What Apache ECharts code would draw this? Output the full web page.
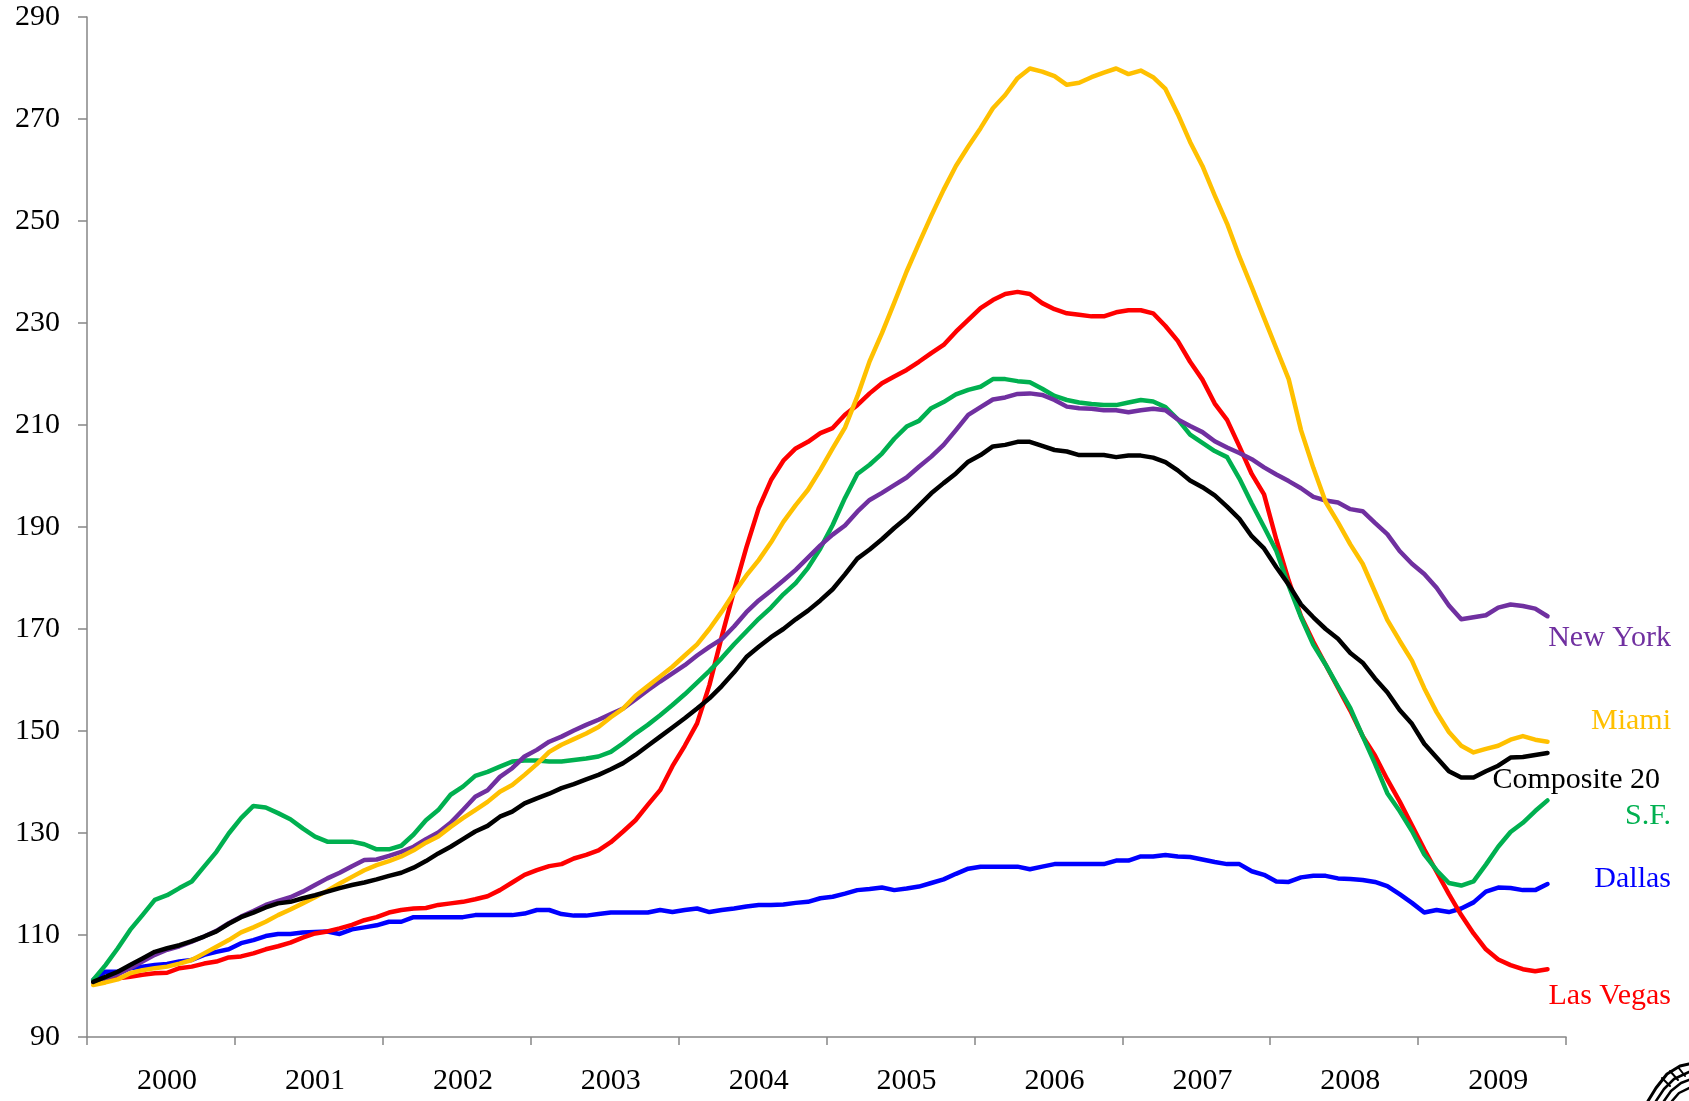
<!DOCTYPE html>
<html>
<head>
<meta charset="utf-8">
<script src="https://cdn.jsdelivr.net/npm/echarts@6/dist/echarts.min.js"></script>
<style>
html,body{margin:0;padding:0;background:#fff;}
#chart{width:1689px;height:1101px;}
</style>
</head>
<body>
<div id="chart"></div>
<script>
// Tick labels (years); months are the categories (Jan 2000 .. Dec 2009)
var years = ['2000','2001','2002','2003','2004','2005','2006','2007','2008','2009'];
var categories = [];
years.forEach(function (y) { for (var m = 1; m <= 12; m++) categories.push(y + '-' + (m < 10 ? '0' + m : m)); });

var yTicks = { min: 90, max: 290, step: 20 };

var composite20 = [
100.8,101.8,102.8,104.1,105.4,106.7,107.4,108.0,108.8,109.7,110.7,112.2,
113.5,114.4,115.4,116.2,116.5,117.2,117.8,118.5,119.2,119.8,120.3,120.9,
121.6,122.2,123.2,124.5,126.0,127.3,128.8,130.3,131.4,133.2,134.2,135.8,
136.8,137.7,138.8,139.6,140.5,141.4,142.5,143.7,145.3,147.1,148.9,150.7,
152.5,154.4,156.4,158.8,161.5,164.5,166.5,168.4,170.0,171.9,173.6,175.6,
177.8,180.7,183.8,185.6,187.6,189.8,191.8,194.2,196.6,198.6,200.5,202.8,
204.1,205.8,206.1,206.7,206.7,205.9,205.1,204.8,204.1,204.1,204.1,203.7,
204.0,204.0,203.6,202.7,201.1,199.1,197.8,196.2,194.0,191.6,188.2,185.8,
182.1,178.7,174.8,172.3,170.0,168.1,165.3,163.4,160.3,157.6,154.1,151.4,
147.5,144.8,142.1,140.9,140.9,142.1,143.2,144.8,144.9,145.3,145.7];

var newYork = [
100.7,101.5,102.3,103.5,104.8,106.1,107.1,107.8,108.7,109.7,110.8,112.3,
113.6,114.7,115.9,116.7,117.4,118.5,119.8,121.1,122.2,123.5,124.7,124.8,
125.5,126.3,127.3,128.8,130.1,132.0,134.5,137.1,138.4,141.0,142.7,145.0,
146.3,147.9,148.9,150.1,151.2,152.2,153.3,154.4,156.2,158.0,159.7,161.3,
162.9,164.8,166.5,168.0,170.5,173.3,175.6,177.5,179.5,181.6,184.0,186.4,
188.5,190.3,193.0,195.3,196.7,198.2,199.7,201.8,203.8,206.1,209.0,212.0,
213.5,215.0,215.4,216.1,216.2,215.9,214.9,213.6,213.3,213.2,212.9,212.9,
212.5,212.9,213.2,212.9,211.1,209.8,208.6,206.8,205.6,204.5,203.3,201.7,
200.3,199.0,197.6,195.9,195.2,194.8,193.5,193.1,190.8,188.6,185.3,182.8,
180.8,178.1,174.6,171.9,172.3,172.7,174.2,174.8,174.5,174.0,172.5];

var miami = [
100.2,100.7,101.3,102.5,103.1,103.5,103.8,104.4,105.1,106.4,107.7,109.0,
110.5,111.5,112.6,113.9,115.0,116.2,117.4,118.7,120.1,121.4,122.7,123.7,
124.5,125.4,126.6,128.1,129.3,131.2,132.9,134.5,136.1,138.1,139.4,141.4,
143.5,145.9,147.3,148.4,149.5,150.8,152.7,154.4,156.9,158.8,160.7,162.6,
164.8,167.0,170.0,173.4,177.1,180.5,183.5,187.0,191.0,194.3,197.3,201.2,
205.4,209.5,215.6,222.5,228.0,234.0,240.1,245.6,251.0,256.1,260.8,264.6,
268.2,272.1,274.7,278.0,279.9,279.3,278.4,276.7,277.1,278.2,279.1,279.9,
278.8,279.5,278.2,275.9,271.0,265.5,260.8,255.0,249.5,243.0,237.1,231.0,
225.0,219.0,209.0,201.6,194.9,190.9,186.6,182.8,177.3,171.8,167.7,163.8,
158.4,153.7,149.8,147.1,145.8,146.5,147.1,148.3,149.0,148.3,147.9];

var sanFrancisco = [
101.2,104.1,107.4,111.0,113.9,116.9,117.8,119.2,120.5,123.4,126.3,129.9,
132.9,135.3,135.0,133.9,132.7,130.9,129.3,128.3,128.3,128.3,127.8,126.8,
126.8,127.5,129.7,132.5,134.5,137.5,139.1,141.2,142.0,143.0,144.0,144.2,
144.2,144.0,144.0,144.3,144.6,145.0,145.9,147.6,149.5,151.2,153.1,155.1,
157.2,159.5,161.8,164.3,167.0,169.5,172.0,174.2,176.8,179.0,182.0,185.8,
190.4,195.7,200.4,202.2,204.4,207.3,209.7,210.8,213.3,214.5,216.0,216.9,
217.5,219.0,219.0,218.6,218.4,217.1,215.7,214.9,214.4,214.1,213.9,213.9,
214.4,214.9,214.6,213.5,211.1,208.1,206.5,204.9,203.7,199.5,194.6,190.0,
185.3,178.5,172.3,166.9,163.0,158.7,154.5,149.0,143.6,137.8,134.3,130.4,
125.8,122.7,120.2,119.7,120.5,123.8,127.3,130.2,132.0,134.3,136.4];

var lasVegas = [
100.8,101.5,101.5,101.8,102.2,102.5,102.6,103.5,103.8,104.4,104.8,105.6,
105.8,106.4,107.2,107.8,108.5,109.5,110.3,110.7,111.3,112.0,112.9,113.5,
114.4,114.9,115.2,115.3,115.9,116.2,116.5,117.0,117.6,118.8,120.3,121.8,
122.7,123.5,123.9,125.0,125.7,126.6,128.2,130.3,132.5,135.5,138.4,143.1,
147.1,151.5,159.0,168.5,177.5,186.0,193.7,199.2,203.0,205.4,206.7,208.4,
209.4,212.0,213.9,216.2,218.2,219.5,220.8,222.4,224.1,225.7,228.3,230.6,
232.9,234.5,235.7,236.1,235.7,233.9,232.7,231.9,231.6,231.3,231.3,232.1,
232.5,232.5,231.9,229.4,226.5,222.4,218.9,214.2,211.0,205.8,200.4,196.4,
187.5,179.5,172.5,167.5,163.0,158.5,154.0,149.0,145.2,140.5,136.2,131.5,
126.8,122.4,118.0,113.9,110.3,107.2,105.2,104.1,103.3,102.9,103.3];

var dallas = [
101.2,102.8,102.8,103.5,103.8,104.1,104.3,104.8,105.1,106.1,106.7,107.2,
108.4,109.0,109.8,110.2,110.2,110.5,110.6,110.7,110.2,111.1,111.5,111.9,
112.6,112.6,113.5,113.5,113.5,113.5,113.5,113.9,113.9,113.9,113.9,114.2,
114.9,114.9,114.1,113.8,113.8,114.1,114.4,114.4,114.4,114.4,114.9,114.5,
114.9,115.2,114.5,114.9,115.2,115.6,115.9,115.9,116.0,116.3,116.5,117.2,
117.5,118.1,118.8,119.0,119.3,118.8,119.1,119.5,120.2,120.9,122.0,123.0,
123.4,123.4,123.4,123.4,122.9,123.4,123.9,123.9,123.9,123.9,123.9,124.6,
124.6,125.4,125.4,125.7,125.4,125.3,124.8,124.3,123.9,123.9,122.5,121.8,
120.5,120.4,121.3,121.6,121.6,121.1,121.0,120.8,120.4,119.6,118.0,116.3,
114.4,114.9,114.5,115.2,116.4,118.5,119.3,119.2,118.8,118.8,120.0];

var seriesDefs = [
  { name: 'Dallas', data: dallas, color: '#0000FF' },
  { name: 'Las Vegas', data: lasVegas, color: '#FF0000' },
  { name: 'S.F.', data: sanFrancisco, color: '#00B050' },
  { name: 'New York', data: newYork, color: '#7030A0' },
  { name: 'Miami', data: miami, color: '#FFC000' },
  { name: 'Composite 20', data: composite20, color: '#000000' }
];

var FONT = '"Liberation Serif", "Times New Roman", serif';
var axisGray = '#868686';

var chart = echarts.init(document.getElementById('chart'), null, { renderer: 'canvas' });

function label(text, x, y, color) {
  return { type: 'text', x: x, y: y, silent: true,
    style: { text: text, fill: color, font: '30px ' + FONT, align: 'right', verticalAlign: 'middle' } };
}
function stroke(points, w) {
  return { type: 'polyline', silent: true, shape: { points: points },
    style: { stroke: '#000', lineWidth: w, fill: null, lineCap: 'round', lineJoin: 'round' } };
}

chart.setOption({
  animation: false,
  backgroundColor: '#ffffff',
  grid: { left: 87, top: 17, width: 1479, height: 1020, containLabel: false },
  xAxis: {
    type: 'category',
    data: categories,
    boundaryGap: true,
    axisLine: { show: true, lineStyle: { color: axisGray, width: 1.5 } },
    axisTick: { show: true, length: 8, lineStyle: { color: axisGray, width: 1.5 },
      interval: function (idx) { return idx % 12 === 0; } },
    axisLabel: { show: true, color: '#000', fontFamily: FONT, fontSize: 30, margin: 29,
      interval: function (idx) { return idx % 12 === 6; },
      formatter: function (v) { return v.slice(0, 4); } },
    splitLine: { show: false }
  },
  yAxis: {
    type: 'value',
    min: yTicks.min, max: yTicks.max, interval: yTicks.step,
    axisLine: { show: true, lineStyle: { color: axisGray, width: 1.5 } },
    axisTick: { show: true, length: 9, lineStyle: { color: axisGray, width: 1.5 } },
    axisLabel: { color: '#000', fontFamily: FONT, fontSize: 30, margin: 27 },
    splitLine: { show: false }
  },
  series: seriesDefs.map(function (s) {
    return { name: s.name, type: 'line', data: s.data, showSymbol: false, symbol: 'none',
      lineStyle: { color: s.color, width: 4.5, join: 'round', cap: 'round' },
      itemStyle: { color: s.color }, smooth: false };
  }),
  graphic: [
    label('New York', 1671, 638, '#7030A0'),
    label('Miami', 1671, 721, '#FFC000'),
    label('Composite 20', 1660, 780, '#000000'),
    label('S.F.', 1671, 816, '#00B050'),
    label('Dallas', 1671, 879, '#0000FF'),
    label('Las Vegas', 1671, 996, '#FF0000'),
    // clipped logo artwork in the bottom-right corner
    stroke([[1648, 1101], [1656, 1088], [1667, 1074], [1680, 1066], [1689, 1064]], 3),
    stroke([[1656, 1101], [1664, 1089], [1674, 1079], [1689, 1072]], 2.5),
    stroke([[1664, 1101], [1671, 1091], [1681, 1083], [1689, 1080]], 2.5),
    stroke([[1672, 1101], [1679, 1093], [1689, 1088]], 2.5),
    stroke([[1662, 1078], [1670, 1086]], 2),
    stroke([[1670, 1071], [1678, 1080]], 2),
    stroke([[1678, 1067], [1685, 1076]], 2)
  ]
});
</script>
</body>
</html>
